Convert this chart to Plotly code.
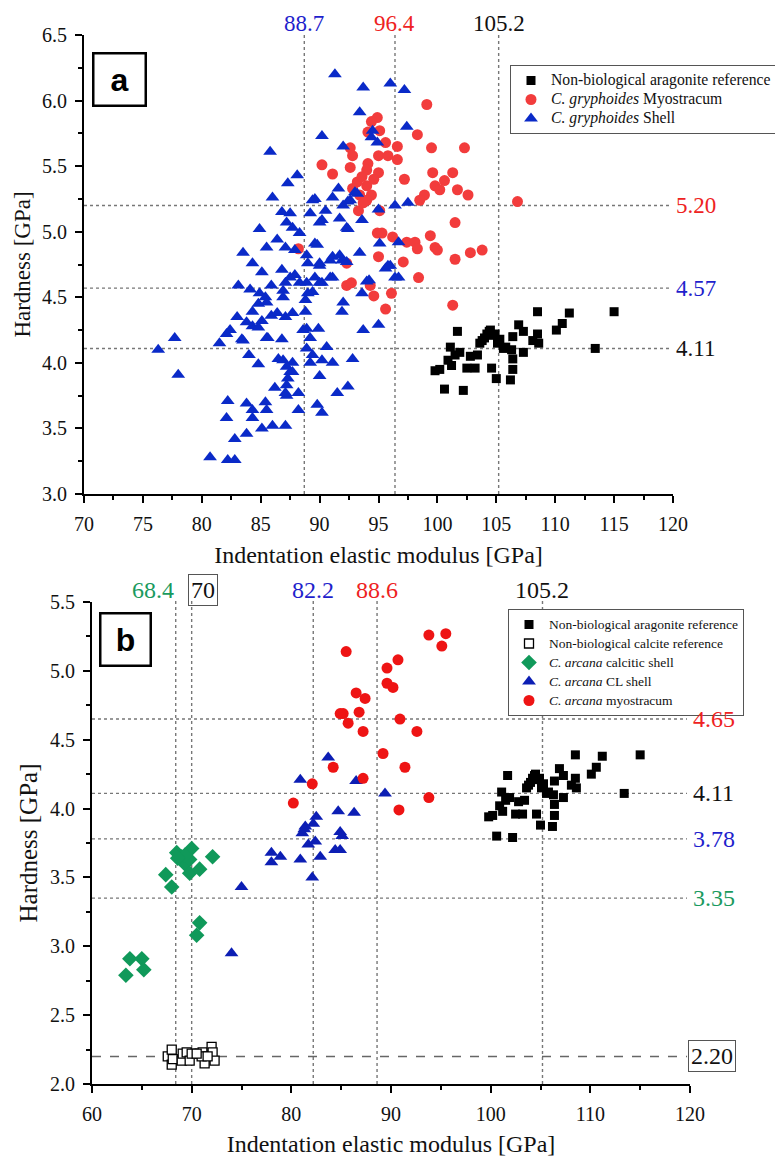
import plotly.graph_objects as go

# ---------------- Panel a data ----------------
ara_x = [99.8, 100.2, 100.6, 100.9, 101.1, 101.2, 101.5, 101.7, 101.9, 102.2, 102.5, 102.8, 103.2, 103.4,
         103.6, 103.8, 104.0, 104.2, 104.4, 104.5, 104.6, 104.7, 104.9, 105.0, 105.1, 105.3, 105.6, 105.8,
         106.2, 106.3, 106.4, 106.4, 106.4, 106.9, 107.3, 107.3, 108.1, 108.5, 108.5, 108.6, 110.1, 110.6,
         111.2, 113.4, 115.0]
ara_y = [3.94, 3.95, 3.80, 4.02, 4.12, 3.98, 4.06, 4.24, 4.08, 3.79, 3.96, 4.05, 3.96, 4.06,
         4.15, 4.17, 4.19, 4.22, 4.24, 4.25, 3.96, 4.21, 4.22, 3.88, 4.15, 4.18, 4.11, 4.12,
         3.87, 4.10, 3.95, 4.03, 4.20, 4.29, 4.08, 4.24, 4.17, 4.22, 4.39, 4.15, 4.25, 4.30,
         4.38, 4.11, 4.39]

myo_a_x = [99.1, 98.3, 99.5, 102.3, 94.9, 94.4, 95.1, 94.1, 95.6, 96.6, 92.6, 92.8, 95.0, 95.8, 96.6,
           90.2, 92.6, 94.1, 94.0, 95.0, 91.1, 97.2, 99.6, 101.3, 100.6, 99.8, 100.2, 101.7, 102.6, 98.9,
           98.5, 93.2, 94.0, 94.4, 93.4, 92.8, 94.0, 93.3, 95.1, 101.5, 94.9, 95.3, 96.2, 97.4, 98.1,
           99.4, 98.3, 99.8, 100.0, 102.8, 103.8, 95.0, 101.5, 97.1, 106.8, 98.4, 96.1, 95.6, 94.6,
           101.3, 92.3, 92.7, 94.3, 92.3, 93.7, 93.6, 94.6, 88.2]
myo_a_y = [5.97, 5.74, 5.64, 5.64, 5.87, 5.84, 5.77, 5.76, 5.68, 5.65, 5.64, 5.58, 5.58, 5.58, 5.55,
           5.51, 5.49, 5.52, 5.47, 5.45, 5.44, 5.40, 5.45, 5.45, 5.39, 5.35, 5.32, 5.32, 5.28, 5.28,
           5.24, 5.38, 5.35, 5.28, 5.28, 5.33, 5.24, 5.16, 5.16, 5.07, 4.99, 4.99, 4.96, 4.92, 4.92,
           4.97, 4.87, 4.88, 4.86, 4.84, 4.86, 4.81, 4.79, 4.77, 5.23, 4.65, 4.53, 4.41, 4.51,
           4.44, 4.59, 4.61, 4.59, 4.76, 5.22, 5.42, 5.40, 4.87]

shell_a_x = [91.3, 93.7, 96.0, 93.4, 90.2, 85.8, 94.5, 94.9, 92.0, 88.1, 87.3, 86.0, 89.6, 91.1, 91.6,
             93.2, 86.8, 87.5, 89.2, 90.5, 92.4, 95.0, 87.2, 87.7, 88.3, 84.9, 90.2, 91.7, 92.4, 93.6,
             86.4, 87.1, 89.8, 95.1, 83.5, 85.5, 87.9, 93.4, 91.1, 96.7,
             97.2, 97.4, 94.4, 93.0, 92.6, 89.4, 92.0, 96.4, 97.5, 90.0, 92.3, 89.6, 96.0, 95.6, 91.7,
             92.3, 90.9, 90.0, 88.9,
             90.0, 96.7, 94.0, 93.6, 92.0, 91.9, 95.0, 93.7, 91.1, 90.2, 89.4, 88.8, 88.8, 88.9, 89.9,
             89.2, 90.6, 88.9, 89.4, 90.2, 91.1, 92.8, 90.0, 92.4,
             76.3, 77.7, 78.0, 80.7, 82.2, 82.8, 82.8, 82.1, 82.2, 83.8, 83.8, 84.3, 84.3, 85.1, 86.0,
             87.1, 85.4, 85.5, 86.2, 87.2, 87.3, 87.5, 87.2, 88.2, 88.2, 89.8, 90.2, 91.5, 89.2, 87.7,
             86.5, 86.9, 84.8, 84.0, 83.4, 81.5, 82.1, 82.4, 84.3, 83.0, 83.8, 84.8, 85.5, 86.8, 85.1,
             85.9, 86.4, 87.1, 87.7, 84.3, 84.8, 85.4, 85.5, 84.9, 85.9, 84.1, 83.1, 86.9, 86.9, 87.1,
             87.5, 87.9, 88.3, 88.9, 89.6, 89.0, 90.0, 90.9, 84.3, 85.1, 86.8, 89.0, 91.9, 95.8, 94.2,
             96.4, 83.5, 85.6, 88.6, 87.2, 87.7, 87.1]
shell_a_y = [6.20, 6.10, 6.13, 5.91, 5.73, 5.61, 5.77, 5.68, 5.65, 5.43, 5.37, 5.26, 5.25, 5.26, 5.33,
             5.29, 5.15, 5.14, 5.14, 5.16, 5.23, 5.17, 5.07, 5.03, 4.99, 5.02, 5.09, 5.10, 5.02, 5.09,
             4.94, 4.88, 4.90, 4.91, 4.84, 4.88, 4.86, 4.84, 4.81, 4.92,
             6.08, 5.80, 5.72, 5.30, 5.24, 5.24, 5.20, 5.20, 5.22, 5.07, 5.03, 4.91, 4.74, 4.72, 4.82,
             4.77, 4.78, 4.76, 4.82,
             4.74, 4.65, 4.62, 4.53, 4.46, 4.39, 4.29, 4.25, 4.65, 4.61, 4.54, 4.48, 4.39, 4.26, 4.26,
             4.19, 4.12, 4.11, 4.06, 4.02, 4.00, 4.03, 3.90, 3.82,
             4.10, 4.19, 3.91, 3.28, 3.26, 3.26, 3.42, 3.58, 3.71, 3.46, 3.69, 3.64, 3.58, 3.50, 3.52,
             3.52, 3.70, 3.64, 3.81, 3.83, 3.88, 3.93, 3.75, 3.77, 3.64, 3.68, 3.62, 3.77, 4.00, 4.00,
             4.03, 4.02, 3.99, 4.06, 4.18, 4.15, 4.22, 4.25, 4.28, 4.35, 4.31, 4.27, 4.19, 4.18, 4.32,
             4.36, 4.38, 4.35, 4.38, 4.39, 4.45, 4.50, 4.46, 4.53, 4.59, 4.56, 4.59, 4.55, 4.50, 4.61,
             4.65, 4.67, 4.61, 4.61, 4.65, 4.53, 4.61, 4.65, 4.76, 4.69, 4.71, 4.76, 4.78, 4.74, 4.63,
             4.65, 4.17, 4.19, 4.25, 3.97, 3.93, 3.77]

# ---------------- Panel b data ----------------
calc_x = [67.6, 68.0, 68.0, 68.1, 69.0, 69.1, 69.5, 69.8, 70.0, 70.8, 71.1, 71.3, 71.0, 72.0, 72.1,
          72.3, 71.6, 70.5]
calc_y = [2.20, 2.25, 2.14, 2.18, 2.17, 2.22, 2.23, 2.17, 2.22, 2.22, 2.23, 2.15, 2.20, 2.27, 2.23,
          2.17, 2.20, 2.22]

calcitic_x = [63.4, 63.8, 65.0, 65.2, 67.4, 68.0, 68.5, 69.0, 69.3, 70.0, 69.8, 69.8, 70.8, 72.1,
              70.8, 70.5, 69.3, 68.6]
calcitic_y = [2.79, 2.91, 2.91, 2.83, 3.52, 3.43, 3.68, 3.65, 3.60, 3.71, 3.63, 3.53, 3.56, 3.65,
              3.17, 3.08, 3.66, 3.64]

cl_x = [80.9, 83.7, 86.5, 89.4, 84.7, 86.3, 82.5, 82.2, 81.4, 81.1, 84.9, 78.0, 78.0, 78.9, 81.7,
        82.4, 80.9, 82.9, 82.1, 84.4, 84.9, 75.0, 74.0, 81.3, 85.1]
cl_y = [4.21, 4.37, 4.20, 4.11, 3.98, 3.97, 3.94, 3.89, 3.87, 3.82, 3.83, 3.68, 3.61, 3.65, 3.74,
        3.76, 3.63, 3.65, 3.50, 3.70, 3.70, 3.43, 2.95, 3.85, 3.80]

myo_b_x = [85.5, 85.2, 84.9, 85.7, 86.5, 87.4, 86.8, 87.2, 84.2, 82.1, 80.2, 87.2, 89.2, 89.6, 89.6,
           90.2, 90.7, 90.9, 90.8, 93.8, 95.5, 95.1, 92.6, 91.4, 93.8]
myo_b_y = [5.14, 4.69, 4.69, 4.62, 4.84, 4.80, 4.70, 4.56, 4.30, 4.18, 4.04, 4.22, 4.40, 5.02, 4.91,
           4.88, 5.08, 4.65, 3.99, 5.26, 5.27, 5.18, 4.56, 4.30, 4.08]

# reference values (lines + labels)
a_vlines = [88.7, 96.4, 105.2]
a_vcolors = ["#1f1fcc", "#ee2222", "#111111"]
a_hlines = [5.20, 4.57, 4.11]
a_hcolors = ["#ee2222", "#1f1fcc", "#111111"]
b_vlines = [68.4, 70, 82.2, 88.6, 105.2]
b_vcolors = ["#1a9a5e", "#111111", "#1f1fcc", "#ee2222", "#111111"]
b_hlines = [4.65, 4.11, 3.78, 3.35]
b_hcolors = ["#ee2222", "#111111", "#1f1fcc", "#1a9a5e"]
b_calcite_ref = 2.20

SERIF = "Liberation Serif"
BLUE_A = "#0a2ac8"
RED_A = "#f23c3c"
BLUE_B = "#0c1eb4"
RED_B = "#ee1414"
GREEN = "#10995a"


def lg(text, px):
    return f'<span style="font-size:{px}px">{text}</span>'


fig = go.Figure()

# Panel a
fig.add_trace(go.Scatter(x=ara_x, y=ara_y, mode="markers", xaxis="x", yaxis="y", legend="legend",
                         name=lg("Non-biological aragonite reference", 15.7),
                         marker=dict(symbol="square", size=9, color="black")))
fig.add_trace(go.Scatter(x=myo_a_x, y=myo_a_y, mode="markers", xaxis="x", yaxis="y", legend="legend",
                         name=lg("<i>C. gryphoides</i> Myostracum", 15.7),
                         marker=dict(symbol="circle", size=11, color=RED_A)))
fig.add_trace(go.Scatter(x=shell_a_x, y=shell_a_y, mode="markers", xaxis="x", yaxis="y", legend="legend",
                         name=lg("<i>C. gryphoides</i> Shell", 15.7),
                         marker=dict(symbol="triangle-up", size=12, color=BLUE_A)))

# Panel b
fig.add_trace(go.Scatter(x=ara_x, y=ara_y, mode="markers", xaxis="x2", yaxis="y2", legend="legend2",
                         name=lg("Non-biological aragonite reference", 13.5),
                         marker=dict(symbol="square", size=9, color="black")))
fig.add_trace(go.Scatter(x=calc_x, y=calc_y, mode="markers", xaxis="x2", yaxis="y2", legend="legend2",
                         name=lg("Non-biological calcite reference", 13.5),
                         marker=dict(symbol="square", size=9, color="white", line=dict(color="black", width=1.3))))
fig.add_trace(go.Scatter(x=calcitic_x, y=calcitic_y, mode="markers", xaxis="x2", yaxis="y2", legend="legend2",
                         name=lg("<i>C. arcana</i> calcitic shell", 13.5),
                         marker=dict(symbol="diamond", size=12, color=GREEN)))
fig.add_trace(go.Scatter(x=cl_x, y=cl_y, mode="markers", xaxis="x2", yaxis="y2", legend="legend2",
                         name=lg("<i>C. arcana</i> CL shell", 13.5),
                         marker=dict(symbol="triangle-up", size=12, color=BLUE_B)))
fig.add_trace(go.Scatter(x=myo_b_x, y=myo_b_y, mode="markers", xaxis="x2", yaxis="y2", legend="legend2",
                         name=lg("<i>C. arcana</i> myostracum", 13.5),
                         marker=dict(symbol="circle", size=11, color=RED_B)))

W, H = 775, 1157
tickfont = dict(family=SERIF, size=20, color="#111")


def axis_common():
    return dict(showline=True, linewidth=2, linecolor="black", mirror=False, showgrid=False,
                zeroline=False, ticks="outside", ticklen=7, tickwidth=1.5, tickcolor="black",
                tickfont=dict(tickfont), ticklabelstandoff=4)


xa = axis_common()
xa.update(domain=[84 / W, 673 / W], anchor="y", range=[70, 120], tick0=70, dtick=5,
          minor=dict(ticks="outside", ticklen=4, tickwidth=1.5, tickcolor="black", dtick=2.5),
          title=dict(text="Indentation elastic modulus [GPa]", font=dict(family=SERIF, size=24, color="#111"),
                     standoff=12))
ya = axis_common()
ya.update(domain=[1 - 494 / H, 1 - 35 / H], anchor="x", range=[3.0, 6.5], tick0=3.0, dtick=0.5,
          tickformat=".1f",
          minor=dict(ticks="outside", ticklen=4, tickwidth=1.5, tickcolor="black", dtick=0.25),
          title=dict(text="Hardness [GPa]", font=dict(family=SERIF, size=23, color="#111"), standoff=5))
xb = axis_common()
xb.update(domain=[92 / W, 690 / W], anchor="y2", range=[60, 120], tick0=60, dtick=10,
          minor=dict(ticks="outside", ticklen=4, tickwidth=1.5, tickcolor="black", dtick=5),
          title=dict(text="Indentation elastic modulus [GPa]", font=dict(family=SERIF, size=24, color="#111"),
                     standoff=12))
yb = axis_common()
yb.update(domain=[1 - 1084 / H, 1 - 602 / H], anchor="x2", range=[2.0, 5.5], tick0=2.0, dtick=0.5,
          tickformat=".1f",
          minor=dict(ticks="outside", ticklen=4, tickwidth=1.5, tickcolor="black", dtick=0.25),
          title=dict(text="Hardness [GPa]", font=dict(family=SERIF, size=25, color="#111"), standoff=5))

shapes = []
annotations = []
dot = dict(color="#777", width=1.4, dash="dot")

for v, c in zip(a_vlines, a_vcolors):
    shapes.append(dict(type="line", xref="x", yref="y domain", x0=v, x1=v, y0=0, y1=1, line=dot, layer="below"))
    annotations.append(dict(xref="x", yref="y domain", x=v, y=1, yanchor="middle", yshift=12,
                            text=f"{v:.1f}", showarrow=False, font=dict(family=SERIF, size=23, color=c)))
for v, c in zip(a_hlines, a_hcolors):
    shapes.append(dict(type="line", xref="x domain", yref="y", x0=0, x1=0.995, y0=v, y1=v, line=dot, layer="below"))
    annotations.append(dict(xref="x domain", yref="y", x=1, y=v, xanchor="left", xshift=1,
                            text=f"{v:.2f}", showarrow=False, font=dict(family=SERIF, size=23, color=c)))

for v, c in zip(b_vlines, b_vcolors):
    shapes.append(dict(type="line", xref="x2", yref="y2 domain", x0=v, x1=v, y0=0, y1=1.005, line=dot, layer="below"))
    if v == 70:
        annotations.append(dict(xref="x2", yref="y2 domain", x=v, y=1, xanchor="left", xshift=-4,
                                yanchor="middle", yshift=12, text="70", showarrow=False,
                                bordercolor="#555", borderwidth=1, borderpad=2,
                                font=dict(family=SERIF, size=24, color=c)))
    elif v == 68.4:
        annotations.append(dict(xref="x2", yref="y2 domain", x=v, y=1, xanchor="right", xshift=0,
                                yanchor="middle", yshift=12, text=f"{v:.1f}", showarrow=False,
                                font=dict(family=SERIF, size=24, color=c)))
    else:
        annotations.append(dict(xref="x2", yref="y2 domain", x=v, y=1, yanchor="middle", yshift=12,
                                text=f"{v:.1f}", showarrow=False, font=dict(family=SERIF, size=24, color=c)))
for v, c in zip(b_hlines, b_hcolors):
    shapes.append(dict(type="line", xref="x2 domain", yref="y2", x0=0, x1=0.995, y0=v, y1=v, line=dot, layer="below"))
    annotations.append(dict(xref="x2 domain", yref="y2", x=1, y=v, xanchor="left", xshift=1,
                            text=f"{v:.2f}", showarrow=False, font=dict(family=SERIF, size=24, color=c)))
shapes.append(dict(type="line", xref="x2 domain", yref="y2", x0=0, x1=0.995, y0=b_calcite_ref, y1=b_calcite_ref,
                   line=dict(color="#666", width=1.4, dash="dash"), layer="below"))
annotations.append(dict(xref="x2 domain", yref="y2", x=1, y=b_calcite_ref, xanchor="left", xshift=-2,
                        text=f"{b_calcite_ref:.2f}", showarrow=False, bordercolor="#555", borderwidth=1,
                        borderpad=2, font=dict(family=SERIF, size=24, color="#111")))

# panel letters
annotations.append(dict(xref="paper", yref="paper", x=119.5 / W, y=1 - 80 / H, xanchor="center", yanchor="middle",
                        text="<b>a</b>", showarrow=False, width=46, height=46, borderpad=2,
                        bordercolor="black", borderwidth=2.5,
                        font=dict(family="Liberation Sans", size=32, color="black")))
annotations.append(dict(xref="paper", yref="paper", x=125.5 / W, y=1 - 639 / H, xanchor="center", yanchor="middle",
                        text="<b>b</b>", showarrow=False, width=44, height=46, borderpad=2,
                        bordercolor="black", borderwidth=2.5,
                        font=dict(family="Liberation Sans", size=32, color="black")))

fig.update_layout(
    width=W, height=H,
    font=dict(family=SERIF, color="#111"),
    margin=dict(l=0, r=0, t=0, b=0, autoexpand=False),
    paper_bgcolor="white", plot_bgcolor="white",
    xaxis=xa, yaxis=ya, xaxis2=xb, yaxis2=yb,
    shapes=shapes, annotations=annotations,
    showlegend=True,
    legend=dict(x=510 / W, y=1 - 65 / H, xanchor="left", yanchor="top", bgcolor="white",
                bordercolor="#555", borderwidth=1, tracegroupgap=0,
                font=dict(family=SERIF, size=12, color="#111")),
    legend2=dict(x=508 / W, y=1 - 609 / H, xanchor="left", yanchor="top", bgcolor="white",
                 bordercolor="#555", borderwidth=1, tracegroupgap=0,
                 font=dict(family=SERIF, size=11, color="#111")),
)

fig.write_html("out.html")
